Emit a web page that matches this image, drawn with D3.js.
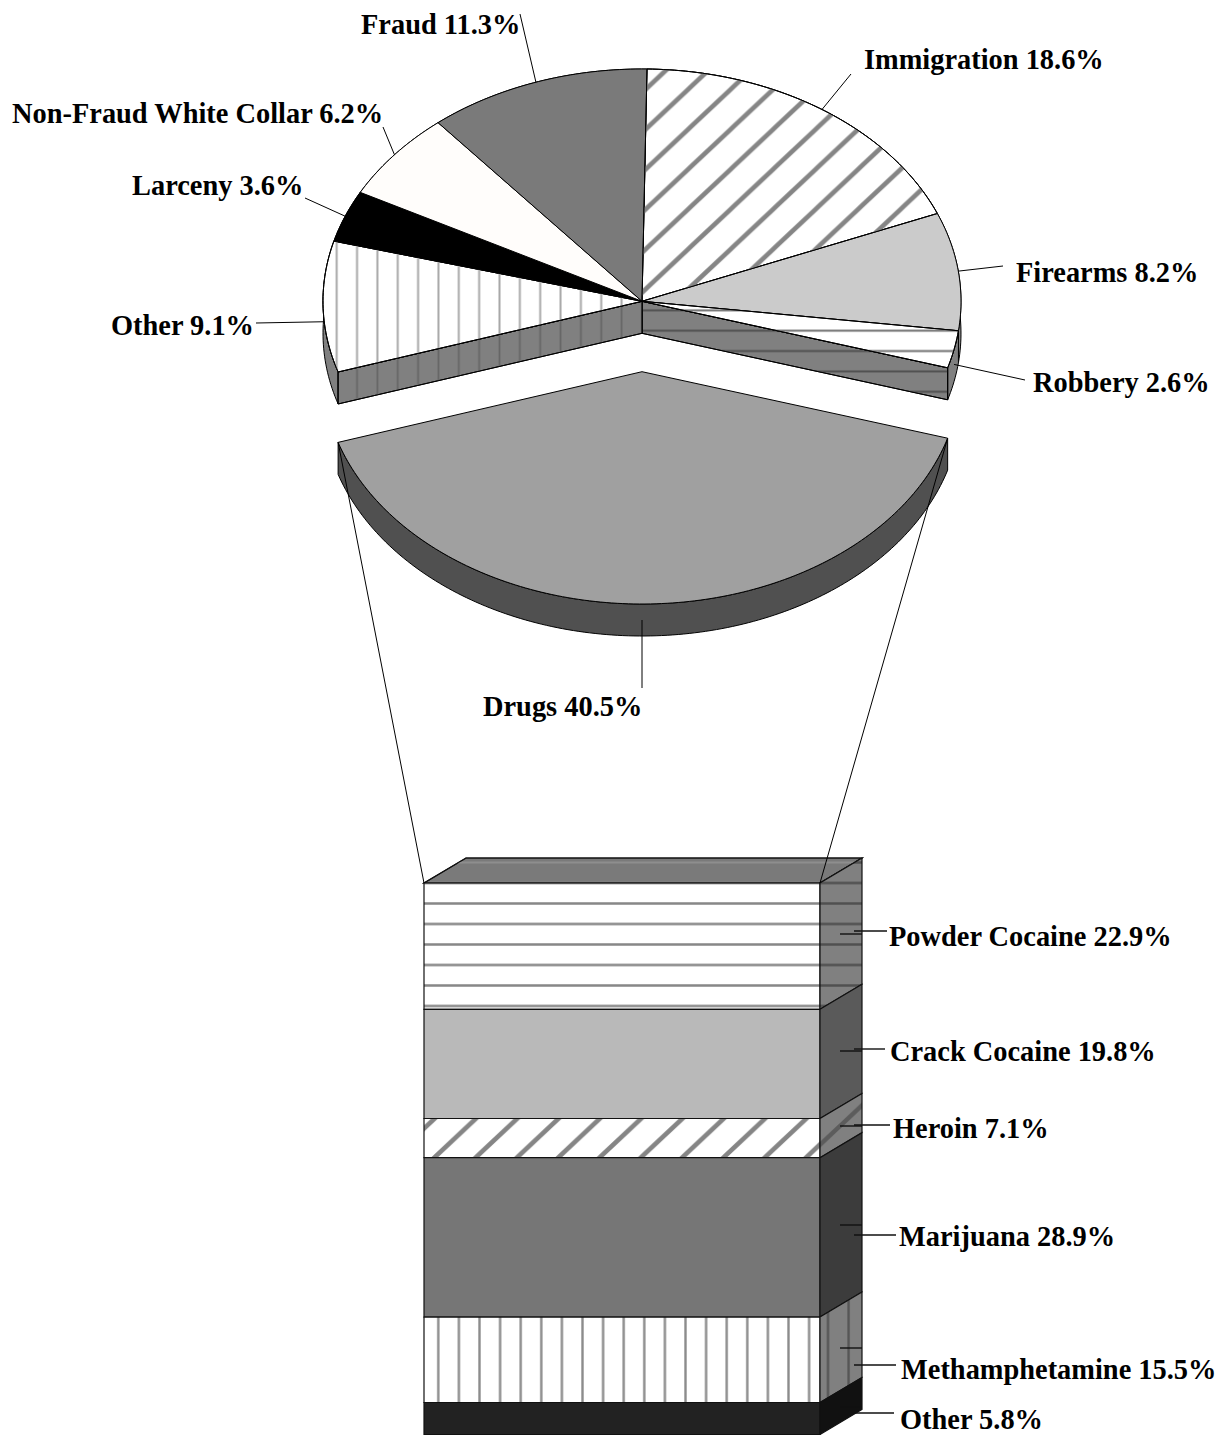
<!DOCTYPE html>
<html>
<head>
<meta charset="utf-8">
<script src="https://cdn.jsdelivr.net/npm/d3@7"></script>
<style>
  html, body { margin: 0; background: #fff; }
  svg { display: block; }
  text { font-family: "Liberation Serif", "Times New Roman", serif; font-weight: bold; font-size: 28.4px; fill: #000; }
</style>
</head>
<body>
<div id="chart"></div>
<script>
// valores
const crimeLabels = ["Immigration", "Firearms", "Robbery", "Drugs", "Other", "Larceny", "Non-Fraud White Collar", "Fraud"];
const crimeValues = [18.6, 8.2, 2.6, 40.5, 9.1, 3.6, 6.2, 11.3];
const drugLabels = ["Powder Cocaine", "Crack Cocaine", "Heroin", "Marijuana", "Methamphetamine", "Other"];
const drugValues = [22.9, 19.8, 7.1, 28.9, 15.5, 5.8];

// estilo de cada fatia e de cada segmento
const crimeTop = ["#fff", "#cbcbcb", "#fff", "#a0a0a0", "#fff", "#000", "#fffdfb", "#7a7a7a"];
const crimeRim = ["#808080", "#8a8a8a", "#808080", "#505050", "#808080", "#000", "#9a9a9a", "#505050"];
const drugFront = ["#fff", "#b9b9b9", "#fff", "#767676", "#fff", "#222"];
const drugSide = ["#808080", "#5a5a5a", "#808080", "#3c3c3c", "#808080", "#111"];

// posição dos rótulos e das linhas de chamada
const crimeLabelX = [864, 1016, 1033, 483, 111, 132, 12, 361];
const crimeLabelY = [69, 282, 392, 716, 335, 195, 123, 34];
const crimeLeaderX = [851, 1003, 1025, 642, 256, 305, 383, 520];
const crimeLeaderY = [74, 266, 380, 688, 323, 198, 127, 14];
const crimeLeaderDrop = [0, 0, 15, 0, 15, 0, 0, 0];
const drugLabelX = [889, 890, 893, 899, 901, 900];
const drugLabelY = [946, 1061, 1138, 1246, 1379, 1429];
const drugTickY = [934, 1051, 1126, 1225, 1348, 1407];
const drugLeaderY = [931, 1049, 1125, 1235, 1365, 1413];
const drugLeaderX = [887, 885, 890, 896, 896, 894];

const width = 1218;
const height = 1435;

const cx = 642;
const cy = 301.3;
const rx = 319;
const ry = 232.3;
const depth = 32;
const explode = 70.4;

const barLeft = 424;
const barRight = 820;
const barTop = 883;
const barBottom = 1434.5;
const barDx = 42;
const barDy = 25;

const rad = Math.PI / 180;

const svg = d3.select("#chart")
  .append("svg")
  .attr("width", width)
  .attr("height", height);

const defs = svg.append("defs");

// cria as hachuras: vertical, horizontal ou diagonal
function hatch(id, kind, px, py, spacing, color, lineWidth) {
  const w = kind === "h" ? 10 : spacing;
  const h = kind === "diag" ? spacing * 0.94 : (kind === "h" ? spacing : 10);
  const p = defs.append("pattern")
    .attr("id", id)
    .attr("patternUnits", "userSpaceOnUse")
    .attr("width", w)
    .attr("height", h)
    .attr("patternTransform", `translate(${kind === "v" ? px - w / 2 : px},${kind === "h" ? py - h / 2 : py})`);
  let d;
  if (kind === "v") d = `M${w / 2},0V${h}`;
  if (kind === "h") d = `M0,${h / 2}H${w}`;
  if (kind === "diag") d = `M${-w},${h}L${w},${-h}M0,${h}L${w},0M0,${2 * h}L${2 * w},0`;
  p.append("path")
    .attr("d", d)
    .attr("fill", "none")
    .attr("stroke", color)
    .attr("stroke-width", lineWidth);
  return `url(#${id})`;
}

const hatchImmigration = hatch("h-imm", "diag", 646.7, 168.3, 42.5, "#858585", 4.6);
const hatchOtherTop = hatch("h-other", "v", 336.7, 0, 20.35, "#a8a8a8", 2);
const hatchOtherWall = hatch("h-other-wall", "v", 336.7, 0, 20.35, "#666", 1.8);
const hatchRobberyTop = hatch("h-rob", "h", 0, 330.7, 20.35, "#707070", 2);
const hatchRobberyWall = hatch("h-rob-wall", "h", 0, 330.7, 20.35, "#505050", 2);
const hatchPowder = hatch("h-powder", "h", 0, 883, 20.5, "#888", 2.5);
const hatchPowderSide = hatch("h-powder-side", "h", 0, 883, 20.5, "#505050", 2.5);
const hatchPowderTop = hatch("h-powder-top", "h", 0, 862.5, 20.5, "#8e8e8e", 2);
const hatchHeroin = hatch("h-heroin", "diag", 435, 1157, 41.3, "#858585", 4.6);
const hatchHeroinSide = hatch("h-heroin-side", "diag", 840, 1126, 41.3, "#5c5c5c", 4.5);
const hatchMeth = hatch("h-meth", "v", 438.3, 0, 20.6, "#8c8c8c", 2.4);
const hatchMethSide = hatch("h-meth-side", "v", 828, 0, 20.6, "#555", 2.4);

// layout da pizza, girado como no original
const pie = d3.pie()
  .sort(null)
  .startAngle(0.9 * rad)
  .endAngle(360.9 * rad);
const slices = pie(crimeValues);

// projeta um ângulo na elipse
function project(a, yc) {
  return [cx + rx * Math.sin(a), yc - ry * Math.cos(a)];
}

function arcPoints(a0, a1, yc) {
  const n = Math.max(2, Math.ceil(Math.abs(a1 - a0) / rad));
  return d3.range(n + 1).map(i => project(a0 + (a1 - a0) * i / n, yc));
}

const line = d3.line().curve(d3.curveLinear);

function topPath(d, yc) {
  return line([[cx, yc], ...arcPoints(d.startAngle, d.endAngle, yc)]) + "Z";
}

function rimPath(d, yc) {
  const upper = arcPoints(d.startAngle, d.endAngle, yc);
  const lower = arcPoints(d.startAngle, d.endAngle, yc + depth).reverse();
  return line([...upper, ...lower]) + "Z";
}

function wallPath(a, yc) {
  const p = project(a, yc);
  return line([[cx, yc], p, [p[0], p[1] + depth], [cx, yc + depth]]) + "Z";
}

const drugsIndex = crimeLabels.indexOf("Drugs");
const drugs = slices[drugsIndex];
const robbery = slices[crimeLabels.indexOf("Robbery")];
const otherCrime = slices[crimeLabels.indexOf("Other")];

// bordas da pizza (parte de trás fica coberta pelos topos)
const pieGroup = svg.append("g").attr("stroke", "#000").attr("stroke-width", 1).attr("stroke-linejoin", "round");

pieGroup.selectAll(".rim")
  .data(slices.filter((d, i) => i !== drugsIndex))
  .join("path")
  .attr("class", "rim")
  .attr("d", d => rimPath(d, cy))
  .attr("fill", d => crimeRim[d.index]);

// paredes do corte onde a fatia Drugs saiu
[[robbery.endAngle, "#808080", hatchRobberyWall], [otherCrime.startAngle, "#808080", hatchOtherWall]].forEach(w => {
  pieGroup.append("path").attr("d", wallPath(w[0], cy)).attr("fill", w[1]);
  pieGroup.append("path").attr("d", wallPath(w[0], cy)).attr("fill", w[2]).attr("stroke", "none");
  pieGroup.append("path").attr("d", wallPath(w[0], cy)).attr("fill", "none");
});

// topos das fatias
pieGroup.selectAll(".top")
  .data(slices.filter((d, i) => i !== drugsIndex))
  .join("path")
  .attr("class", "top")
  .attr("d", d => topPath(d, cy))
  .attr("fill", d => crimeTop[d.index]);

const topHatches = { Immigration: hatchImmigration, Robbery: hatchRobberyTop, Other: hatchOtherTop };
Object.keys(topHatches).forEach(name => {
  const s = slices[crimeLabels.indexOf(name)];
  pieGroup.append("path").attr("d", topPath(s, cy)).attr("fill", topHatches[name]).attr("stroke", "none");
  pieGroup.append("path").attr("d", topPath(s, cy)).attr("fill", "none");
});

// fatia destacada
const drugsY = cy + explode;
pieGroup.append("path").attr("d", rimPath(drugs, drugsY)).attr("fill", crimeRim[drugsIndex]);
pieGroup.append("path").attr("d", topPath(drugs, drugsY)).attr("fill", crimeTop[drugsIndex]);

// barra empilhada
const yBar = d3.scaleLinear()
  .domain([0, d3.sum(drugValues)])
  .range([barTop, barBottom]);
const cumulative = [0, ...d3.cumsum(drugValues)];

const barGroup = svg.append("g").attr("stroke", "#111").attr("stroke-width", 1.2);

const topFace = line([[barLeft, barTop], [barLeft + barDx, barTop - barDy], [barRight + barDx, barTop - barDy], [barRight, barTop]]) + "Z";
barGroup.append("path").attr("d", topFace).attr("fill", "#7a7a7a");
barGroup.append("path").attr("d", topFace).attr("fill", hatchPowderTop).attr("stroke", "none");
barGroup.append("path").attr("d", topFace).attr("fill", "none");

const frontHatch = [hatchPowder, null, hatchHeroin, null, hatchMeth, null];
const sideHatch = [hatchPowderSide, null, hatchHeroinSide, null, hatchMethSide, null];

drugValues.forEach((v, i) => {
  const y0 = yBar(cumulative[i]);
  const y1 = yBar(cumulative[i + 1]);
  const front = line([[barLeft, y0], [barRight, y0], [barRight, y1], [barLeft, y1]]) + "Z";
  const side = line([[barRight, y0], [barRight + barDx, y0 - barDy], [barRight + barDx, y1 - barDy], [barRight, y1]]) + "Z";

  barGroup.append("path").attr("d", front).attr("fill", drugFront[i]).attr("stroke", "none");
  if (frontHatch[i]) barGroup.append("path").attr("d", front).attr("fill", frontHatch[i]).attr("stroke", "none");
  barGroup.append("path").attr("d", front).attr("fill", "none");

  barGroup.append("path").attr("d", side).attr("fill", drugSide[i]).attr("stroke", "none");
  if (sideHatch[i]) barGroup.append("path").attr("d", side).attr("fill", sideHatch[i]).attr("stroke", "none");
  barGroup.append("path").attr("d", side).attr("fill", "none");
});

// linhas que ligam a fatia à barra
const connectors = svg.append("g").attr("stroke", "#000").attr("stroke-width", 1);
const cornerRight = project(drugs.startAngle, drugsY);
const cornerLeft = project(drugs.endAngle, drugsY);
connectors.append("line").attr("x1", cornerLeft[0]).attr("y1", cornerLeft[1]).attr("x2", barLeft).attr("y2", barTop);
connectors.append("line").attr("x1", cornerRight[0]).attr("y1", cornerRight[1]).attr("x2", barRight).attr("y2", barTop);

// linhas de chamada e rótulos da pizza
const leaders = svg.append("g").attr("stroke", "#000").attr("stroke-width", 1);
slices.forEach((d, i) => {
  const mid = (d.startAngle + d.endAngle) / 2;
  const start = i === drugsIndex ? [cx, drugsY + ry + depth / 2] : project(mid, cy);
  leaders.append("line")
    .attr("x1", start[0])
    .attr("y1", start[1] + crimeLeaderDrop[i])
    .attr("x2", crimeLeaderX[i])
    .attr("y2", crimeLeaderY[i]);
});

svg.append("g").selectAll("text")
  .data(crimeLabels)
  .join("text")
  .attr("x", (d, i) => crimeLabelX[i])
  .attr("y", (d, i) => crimeLabelY[i])
  .text((d, i) => `${d} ${crimeValues[i].toFixed(1)}%`);

// linhas de chamada e rótulos da barra
const barLeaders = svg.append("g").attr("stroke", "#111").attr("stroke-width", 1.4);
drugLabels.forEach((d, i) => {
  barLeaders.append("line").attr("x1", barRight + 20).attr("x2", barRight + barDx).attr("y1", drugTickY[i]).attr("y2", drugTickY[i]);
  barLeaders.append("line").attr("x1", barRight + 34).attr("x2", drugLeaderX[i]).attr("y1", drugLeaderY[i]).attr("y2", drugLeaderY[i]);
});

svg.append("g").selectAll("text")
  .data(drugLabels)
  .join("text")
  .attr("x", (d, i) => drugLabelX[i])
  .attr("y", (d, i) => drugLabelY[i])
  .text((d, i) => `${d} ${drugValues[i].toFixed(1)}%`);
</script>
</body>
</html>
